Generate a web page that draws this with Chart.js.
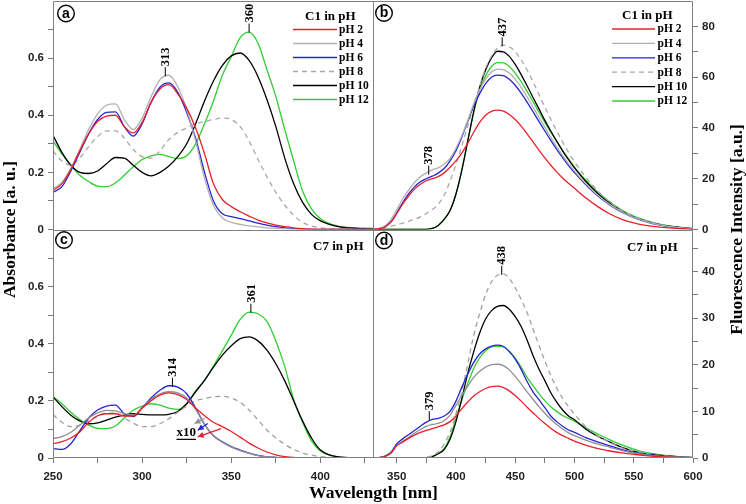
<!DOCTYPE html>
<html><head><meta charset="utf-8">
<script src="https://cdn.jsdelivr.net/npm/chart.js@4.4.1/dist/chart.umd.min.js"></script>
<style>html,body{margin:0;padding:0;background:#fff}canvas{display:block}</style>
</head><body>
<canvas id="c" width="746" height="504"></canvas>
<script>
// ---------- DATA ----------
const absWl = [250,255,260,265,270,275,280,285,290,295,300,305,310,315,320,325,330,335,340,345,350,355,360,365,370,375,380,385,390,395,400,410,420,430];
const fluWl = [330,335,340,345,350,355,360,365,370,375,380,385,390,395,400,405,410,415,420,425,430,435,440,445,450,455,460,465,470,475,480,485,490,495,500,510,520,530,540,550,560,570,580,590,600];
const pHLabels = ['pH 2','pH 4','pH 6','pH 8','pH 10','pH 12'];

// (a) C1 absorbance
const absC1_pH2  = [0.137,0.16,0.21,0.275,0.335,0.378,0.397,0.40,0.36,0.338,0.375,0.445,0.492,0.507,0.475,0.425,0.355,0.265,0.16,0.105,0.08,0.062,0.047,0.033,0.023,0.015,0.01,0.006,0.003,0.001,0,0,0,0];
const absC1_pH4  = [0.143,0.165,0.215,0.28,0.35,0.405,0.435,0.44,0.385,0.35,0.39,0.465,0.525,0.54,0.5,0.42,0.31,0.18,0.085,0.04,0.025,0.018,0.013,0.009,0.006,0.004,0.002,0.001,0,0,0,0,0,0];
const absC1_pH6  = [0.13,0.15,0.205,0.27,0.335,0.385,0.41,0.412,0.36,0.327,0.37,0.445,0.498,0.513,0.48,0.41,0.32,0.2,0.1,0.055,0.045,0.038,0.03,0.022,0.015,0.01,0.006,0.003,0.001,0,0,0,0,0];
const absC1_pH8  = [0.275,0.24,0.225,0.25,0.29,0.325,0.345,0.345,0.32,0.28,0.255,0.25,0.275,0.315,0.34,0.355,0.37,0.378,0.385,0.39,0.385,0.36,0.31,0.245,0.185,0.13,0.085,0.05,0.025,0.012,0.006,0.002,0,0];
const absC1_pH10 = [0.33,0.27,0.225,0.2,0.196,0.205,0.23,0.252,0.25,0.225,0.2,0.188,0.2,0.222,0.255,0.3,0.37,0.45,0.52,0.575,0.608,0.618,0.592,0.535,0.455,0.36,0.25,0.16,0.095,0.053,0.03,0.01,0.004,0.002];
const absC1_pH12 = [0.31,0.265,0.225,0.19,0.168,0.152,0.15,0.163,0.19,0.22,0.245,0.258,0.263,0.255,0.248,0.258,0.3,0.37,0.45,0.54,0.605,0.672,0.691,0.652,0.56,0.465,0.35,0.24,0.135,0.072,0.038,0.012,0.006,0.004];

// (c) C7 absorbance
const absC7_pH2  = [0.05,0.057,0.07,0.091,0.125,0.148,0.155,0.155,0.147,0.147,0.175,0.2,0.22,0.228,0.222,0.205,0.175,0.148,0.125,0.11,0.093,0.073,0.052,0.035,0.021,0.011,0.005,0.002,0,0,0,0,0,0];
const absC7_pH4  = [0.068,0.075,0.09,0.115,0.14,0.158,0.167,0.165,0.155,0.15,0.175,0.205,0.225,0.232,0.228,0.21,0.17,0.118,0.078,0.055,0.038,0.026,0.016,0.008,0.004,0.002,0,0,0,0,0,0,0,0];
const absC7_pH6  = [0.033,0.03,0.05,0.095,0.14,0.168,0.182,0.185,0.155,0.145,0.175,0.21,0.237,0.253,0.248,0.225,0.175,0.118,0.078,0.057,0.04,0.028,0.017,0.009,0.004,0.002,0,0,0,0,0,0,0,0];
const absC7_pH8  = [0.152,0.125,0.11,0.115,0.13,0.145,0.157,0.157,0.14,0.122,0.11,0.11,0.12,0.138,0.16,0.182,0.2,0.208,0.214,0.216,0.21,0.195,0.168,0.133,0.098,0.07,0.048,0.03,0.018,0.01,0.005,0.001,0,0];
const absC7_pH10 = [0.214,0.18,0.15,0.13,0.12,0.123,0.133,0.143,0.15,0.155,0.153,0.151,0.151,0.153,0.163,0.19,0.232,0.272,0.318,0.36,0.393,0.418,0.424,0.41,0.378,0.33,0.27,0.2,0.13,0.07,0.028,0.004,0.001,0];
const absC7_pH12 = [0.214,0.19,0.16,0.135,0.115,0.104,0.103,0.112,0.14,0.167,0.182,0.19,0.185,0.175,0.17,0.19,0.235,0.272,0.322,0.375,0.43,0.485,0.511,0.505,0.478,0.41,0.32,0.205,0.125,0.06,0.025,0.004,0.001,0];

// (b) C1 fluorescence
const fluC1_pH2  = [0,0.3,1,2.8,6.2,10,13.2,15.9,17.8,19.2,20,20.8,22.3,24.5,27,30.2,34,38.3,42.2,45,46.5,47,46.6,45.3,43.3,40.7,37.7,34.5,31.3,28.2,25.3,22.7,20.3,18.2,16.2,12.3,8.9,6.1,4,2.6,1.6,1,0.6,0.3,0.1];
const fluC1_pH4  = [0,0.4,1.5,3.8,7.8,12,15.5,18.5,20.8,22.3,23.5,24.3,25.8,28,32,37,43,49.5,55,59.2,62,63.2,63,61.6,59.2,56,52.3,48.3,44.2,40.2,36.3,32.6,29.1,25.9,23,17.8,13.4,9.8,7,4.8,3.2,2,1.2,0.6,0.3];
const fluC1_pH6  = [0,0.3,1.1,3,6.5,10.5,14,16.8,18.8,20,21,22.2,24,27,31,36.5,42.6,48.6,53.5,57.5,60,60.8,60.6,59.2,56.8,53.7,50.2,46.4,42.6,38.8,35.1,31.6,28.3,25.2,22.4,17.4,13.1,9.6,6.8,4.7,3.1,1.9,1.1,0.6,0.3];
const fluC1_pH8  = [0,0.2,0.6,1.2,1.8,2.5,3.2,4,5,6.3,7.8,10,13.5,19,25.7,33,41,49,56.5,63.5,68.3,71.4,72.6,72,70,66.8,62.8,58.2,53.2,48.2,43.4,38.8,34.4,30.4,26.7,20.3,15,10.8,7.5,5.1,3.4,2.2,1.3,0.7,0.3];
const fluC1_pH10 = [0,0,0,0,0,0,0,0,0,0.05,0.4,1.6,4,7.5,14,23.5,35,46.5,56,62.8,67.6,70.2,70,68.2,65,61,56.6,52,47.5,43,38.8,34.8,31,27.5,24.3,18.7,14,10.2,7.2,4.9,3.3,2.1,1.3,0.7,0.3];
const fluC1_pH12 = [0,0,0,0,0,0,0,0,0,0.05,0.4,1.6,4,7.5,14,23.5,35,46,55,60.5,64.2,65.7,65.6,64.2,61.6,58.2,54.4,50.3,46.2,42.2,38.3,34.6,31,27.7,24.6,19.2,14.6,10.8,7.7,5.3,3.6,2.3,1.4,0.8,0.4];

// (d) C7 fluorescence
const fluC7_pH2  = [0,0.1,0.3,1,2.6,3.4,4.2,4.9,5.5,5.9,6.3,6.7,7.1,7.8,9,10.6,12,13.3,14.2,14.9,15.3,15.4,15.1,14.4,13.4,12.2,10.9,9.7,8.5,7.4,6.4,5.5,4.8,4.2,3.6,2.7,2,1.5,1.1,0.8,0.5,0.3,0.2,0.1,0.05];
const fluC7_pH4  = [0,0.1,0.3,1,2.7,3.6,4.4,5.3,6.1,6.8,7.2,7.4,8,9.2,11.3,13.4,15.4,17.3,18.6,19.5,20,20.1,19.8,18.9,17.5,15.9,14.2,12.6,11,9.6,8.3,7.2,6.2,5.4,4.8,3.8,3,2.3,1.6,1.1,0.7,0.4,0.3,0.2,0.1];
const fluC7_pH6  = [0,0.1,0.4,1.2,3,4.1,5,5.9,6.8,7.7,8.3,8.5,9,10,12.2,15.2,18,20.5,22.3,23.4,24,24.2,23.9,22.8,21.2,19,16.4,14.2,12.5,10.8,9,7.8,6.8,6,5.5,4.3,3.4,2.6,1.8,1.2,0.8,0.5,0.3,0.2,0.1];
const fluC7_pH8  = [0,0,0,0,0,0,0,0,0.05,0.15,0.5,1.3,3,5.5,9.5,14.3,20.3,26.3,31,35,37.8,39.2,39.5,38.5,36.5,34,31.2,27.7,24.2,20.8,17.7,15,12.8,11,9.4,6.6,4.7,3.3,2.2,1.5,1,0.6,0.4,0.2,0.1];
const fluC7_pH10 = [0,0,0,0,0,0,0,0,0,0.05,0.3,0.9,1.8,4,7.8,12.8,18.2,22.8,26.8,29.8,31.6,32.5,32.7,31.9,30.3,28.2,25.3,22,19.1,16.6,14,12,10.3,9,8.2,6.1,4.6,3.4,2.3,1.5,0.9,0.6,0.4,0.2,0.1];
const fluC7_pH12 = [0,0,0,0,0,0,0,0,0,0.05,0.3,0.9,2,4.5,8.5,12.5,16,19.2,21.5,23,23.8,24,23.9,22.9,21.4,19.5,17.3,15.5,13.8,12.3,11,10,9.1,8.5,7.9,6.4,5.1,3.9,2.8,1.9,1.2,0.8,0.5,0.3,0.1];

// peak annotations
const peakPanel = ['a','a','b','b','c','c','d','d'];
const peakText  = ['313','360','437','378','314','361','438','379'];
const peakWl    = [313,360,439,377,317,361,438.6,377.5];
const peakVal   = [0.54,0.693,72.5,22,0.253,0.512,39.5,8.3];

// ---------- STYLE ----------
const SERIF = "'Liberation Serif','Times New Roman',serif";
const SANS = "'Liberation Sans',Arial,sans-serif";
const colTop = ['#e8202a','#b0b0b0','#2424d6','#a8a8a8','#000000','#33cc33'];
const colBot = ['#e8202a','#909090','#2424d6','#a0a0a0','#000000','#33cc33'];
const dashes = [[],[],[],[5,4],[],[]];

function series(label, wl, vals, xId, yId, color, dash) {
  return {label, data: wl.map((x,i)=>({x, y: vals[i]})), xAxisID:xId, yAxisID:yId,
    borderColor:color, backgroundColor:color, borderWidth:1.3, borderDash:dash,
    pointRadius:0, fill:false, cubicInterpolationMode:'monotone'};
}
const datasets = [];
[absC1_pH2,absC1_pH4,absC1_pH6,absC1_pH8,absC1_pH10,absC1_pH12].forEach((v,i)=>datasets.push(series(pHLabels[i],absWl,v,'xL','yTL',colTop[i],dashes[i])));
[fluC1_pH2,fluC1_pH4,fluC1_pH6,fluC1_pH8,fluC1_pH10,fluC1_pH12].forEach((v,i)=>datasets.push(series(pHLabels[i],fluWl,v,'xR','yTR',colTop[i],dashes[i])));
[absC7_pH2,absC7_pH4,absC7_pH6,absC7_pH8,absC7_pH10,absC7_pH12].forEach((v,i)=>datasets.push(series(pHLabels[i],absWl,v,'xL','yBL',colBot[i],dashes[i])));
[fluC7_pH2,fluC7_pH4,fluC7_pH6,fluC7_pH8,fluC7_pH10,fluC7_pH12].forEach((v,i)=>datasets.push(series(pHLabels[i],fluWl,v,'xR','yBR',colBot[i],dashes[i])));

function axis(pos, stack, min, max, step, major, isX, fmt) {
  return {
    type:'linear', position:pos, stack, stackWeight:1, min, max, offset:false,
    grid:{display:true, drawOnChartArea:false, drawTicks:true, tickLength:5, color:'#7a7a7a', lineWidth:1},
    border:{display:false},
    ticks:{autoSkip:false, maxRotation:0, minRotation:0, padding: isX?7:4,
      font:{family:SANS, size:11.5, weight:'bold'}, color:'#222',
      callback:(v)=>{const r=Math.round(v/major); return Math.abs(v-r*major)<1e-6 ? fmt(v) : '';}},
    afterBuildTicks:(sc)=>{
      const t=[]; for (let k=Math.ceil(min/step-1e-9); k*step<=max+1e-9; k++){ const v=+(k*step).toFixed(6); if (isX || v < max-1e-6) t.push({value:v}); }
      sc.ticks=t;
    },
    afterFit:(sc)=>{ if(isX) sc.height=46; else sc.width=53; sc.paddingTop=0; sc.paddingBottom=0; sc.paddingLeft=0; sc.paddingRight=0; }
  };
}
const fmtA = v => v===0 ? '0' : v.toFixed(1);
const fmtI = v => String(Math.round(v));

const panels = {a:['xL','yTL'], b:['xR','yTR'], c:['xL','yBL'], d:['xR','yBR']};

const overlay = {
  id:'overlay',
  afterDatasetsDraw(chart){
    const {ctx, chartArea:ca, scales:s} = chart;
    ctx.save();
    // frame
    ctx.strokeStyle='#808080'; ctx.lineWidth=1; ctx.setLineDash([]);
    const L=Math.round(ca.left)+0.5, R=Math.round(ca.right)-0.5, T=Math.round(ca.top)+0.5, B=Math.round(ca.bottom)-0.5;
    const MX=Math.round(s.xL.right)+0.5, MY=Math.round(s.yTL.bottom)+0.5;
    ctx.beginPath();
    ctx.moveTo(L,T);ctx.lineTo(R,T);ctx.lineTo(R,B);ctx.lineTo(L,B);ctx.closePath();
    ctx.moveTo(MX,T);ctx.lineTo(MX,B);
    ctx.moveTo(L,MY);ctx.lineTo(R,MY);
    ctx.stroke();

    // circled letters
    const letterPos = {a:[13,12.5], b:[11,12], c:[11,10.5], d:[11,11]};
    Object.keys(panels).forEach(p=>{
      const [xs,ys]=panels[p]; const cx=s[xs].left+letterPos[p][0], cy=s[ys].top+letterPos[p][1];
      ctx.beginPath(); ctx.arc(cx,cy,8.3,0,Math.PI*2); ctx.strokeStyle='#000'; ctx.lineWidth=1.4; ctx.stroke();
      ctx.fillStyle='#000'; ctx.font="bold 14px "+SANS; ctx.textAlign='center'; ctx.textBaseline='middle';
      ctx.fillText(p, cx, cy+0.5);
    });

    // panel titles and legends
    const titleCfg = {a:['C1 in pH',-68,16], b:['C1 in pH',-71,15], c:['C7 in pH',-60,17], d:['C7 in pH',-66,18]};
    Object.keys(titleCfg).forEach(p=>{
      const [xs,ys]=panels[p]; const [txt,dx,dy]=titleCfg[p];
      ctx.fillStyle='#000'; ctx.font="bold 13px "+SERIF; ctx.textAlign='left'; ctx.textBaseline='middle';
      ctx.fillText(txt, s[xs].right+dx, s[ys].top+dy);
    });
    const legCfg = {a:[-80,-36,-34,28.5,14], b:[-81,-38,-35.5,28,14.4]};
    Object.keys(legCfg).forEach(p=>{
      const [xs,ys]=panels[p]; const [l0,l1,tx,y0,dy]=legCfg[p];
      const r=s[xs].right, top=s[ys].top;
      pHLabels.forEach((lab,i)=>{
        const y=top+y0+dy*i;
        ctx.beginPath(); ctx.strokeStyle=colTop[i]; ctx.lineWidth=1.3; ctx.setLineDash(dashes[i]);
        ctx.moveTo(r+l0,y); ctx.lineTo(r+l1,y); ctx.stroke(); ctx.setLineDash([]);
        ctx.fillStyle='#000'; ctx.font="bold 11.5px "+SERIF; ctx.textAlign='left'; ctx.textBaseline='middle';
        ctx.fillText(lab, r+tx, y+0.5);
      });
    });

    // peak markers
    peakText.forEach((t,i)=>{
      const [xs,ys]=panels[peakPanel[i]];
      const px=s[xs].getPixelForValue(peakWl[i]), py=s[ys].getPixelForValue(peakVal[i]);
      ctx.beginPath(); ctx.strokeStyle='#000'; ctx.lineWidth=1; ctx.moveTo(px,py+1); ctx.lineTo(px,py-8); ctx.stroke();
      ctx.save(); ctx.translate(px,py-9); ctx.rotate(-Math.PI/2);
      ctx.fillStyle='#000'; ctx.font="bold 12.5px "+SERIF; ctx.textAlign='left'; ctx.textBaseline='middle';
      ctx.fillText(t,0,0.5); ctx.restore();
    });

    // x10 annotation in panel c
    const xc=s.xL, yc=s.yBL;
    const tx=xc.getPixelForValue(324.7), ty=yc.getPixelForValue(0.088);
    ctx.fillStyle='#000'; ctx.font="bold 13px "+SERIF; ctx.textAlign='center'; ctx.textBaseline='middle';
    ctx.fillText('x10',tx,ty);
    const w=ctx.measureText('x10').width;
    ctx.beginPath(); ctx.strokeStyle='#000'; ctx.lineWidth=1.2; ctx.moveTo(tx-w/2,ty+6.5); ctx.lineTo(tx+w/2,ty+6.5); ctx.stroke();
    const arrows=[[335,0.138,329.4,0.121,colBot[1]],[336.8,0.121,331.2,0.097,colBot[2]],[344.3,0.103,331.2,0.074,colBot[0]]];
    arrows.forEach(([x0,y0,x1,y1,c])=>{
      const a0=xc.getPixelForValue(x0), b0=yc.getPixelForValue(y0), a1=xc.getPixelForValue(x1), b1=yc.getPixelForValue(y1);
      ctx.beginPath(); ctx.strokeStyle=c; ctx.lineWidth=1.2; ctx.moveTo(a0,b0); ctx.lineTo(a1,b1); ctx.stroke();
      const ang=Math.atan2(b1-b0,a1-a0), hl=6, hw=3;
      ctx.beginPath(); ctx.fillStyle=c;
      ctx.moveTo(a1,b1);
      ctx.lineTo(a1-hl*Math.cos(ang)+hw*Math.sin(ang), b1-hl*Math.sin(ang)-hw*Math.cos(ang));
      ctx.lineTo(a1-hl*Math.cos(ang)-hw*Math.sin(ang), b1-hl*Math.sin(ang)+hw*Math.cos(ang));
      ctx.closePath(); ctx.fill();
    });

    // axis titles
    ctx.fillStyle='#000'; ctx.font="bold 17.5px "+SERIF; ctx.textAlign='center'; ctx.textBaseline='middle';
    ctx.fillText('Wavelength [nm]', MX, 493);
    const midY=(ca.top+ca.bottom)/2;
    ctx.save(); ctx.translate(10,midY); ctx.rotate(-Math.PI/2); ctx.fillText('Absorbance [a. u.]',0,0); ctx.restore();
    ctx.save(); ctx.translate(737,midY); ctx.rotate(-Math.PI/2); ctx.fillText('Fluorescence Intensity [a.u.]',0,0); ctx.restore();
    ctx.restore();
  }
};

new Chart(document.getElementById('c'), {
  type:'line',
  data:{datasets},
  options:{
    responsive:false, animation:false, devicePixelRatio:1,
    layout:{padding:{top:1,left:0,right:0,bottom:0}},
    plugins:{legend:{display:false}, tooltip:{enabled:false}},
    scales:{
      xL: axis('bottom','x',250,429.5,25,50,true,fmtI),
      xR: axis('bottom','x',330,600,25,50,true,fmtI),
      yBL: axis('left','yl',0,0.8,0.1,0.2,false,fmtA),
      yTL: axis('left','yl',0,0.8,0.1,0.2,false,fmtA),
      yTR: axis('right','yr',0,90,10,20,false,fmtI),
      yBR: axis('right','yr',0,49,5,10,false,fmtI)
    }
  },
  plugins:[overlay]
});
</script>
</body></html>
